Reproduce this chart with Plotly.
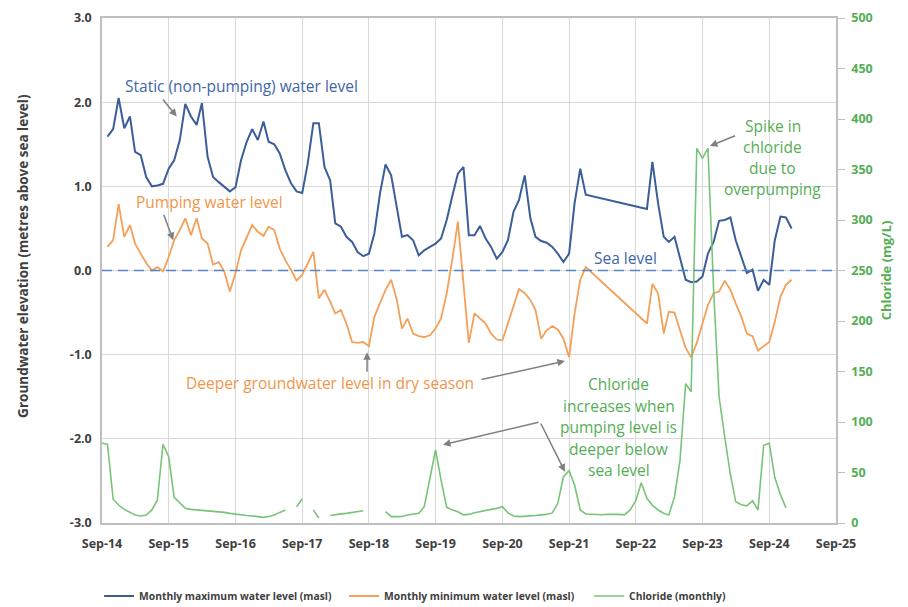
import pandas as pd
import plotly.graph_objects as go

# ---------------- data ----------------
months = pd.date_range("2014-09-01", periods=125, freq="MS")

max_level = [
    None, 1.59, 1.68, 2.05, 1.69, 1.83, 1.41, 1.37, 1.11, 1.00, 1.01, 1.03,
    1.21, 1.31, 1.55, 1.98, 1.83, 1.73, 1.99, 1.35, 1.11, 1.05, 1.00, 0.94,
    0.99, 1.31, 1.53, 1.68, 1.55, 1.77, 1.53, 1.50, 1.39, 1.19, 1.04, 0.94,
    0.92, 1.27, 1.75, 1.75, 1.23, 1.07, 0.56, 0.52, 0.40, 0.34, 0.22, 0.17,
    0.20, 0.44, 0.92, 1.26, 1.13, 0.72, 0.40, 0.42, 0.36, 0.18, 0.24, 0.28,
    0.32, 0.38, 0.60, 0.88, 1.15, 1.23, 0.42, 0.42, 0.53, 0.38, 0.28, 0.14,
    0.22, 0.36, 0.70, 0.84, 1.13, 0.62, 0.40, 0.35, 0.33, 0.28, 0.20, 0.10,
    0.20, 0.80, 1.21, 0.90, None, None, None, None, None, None, None, None,
    None, None, 0.73, 1.29, 0.80, 0.40, 0.34, 0.40, 0.16, -0.11, -0.14, -0.13,
    -0.07, 0.20, 0.34, 0.59, 0.60, 0.63, 0.36, 0.16, -0.03, 0.01, -0.24, -0.11,
    -0.17, 0.36, 0.64, 0.63, 0.50,
]

min_level = [
    None, 0.28, 0.36, 0.79, 0.40, 0.54, 0.32, 0.20, 0.09, 0.00, 0.04, -0.01,
    0.16, 0.36, 0.48, 0.62, 0.42, 0.62, 0.38, 0.32, 0.07, 0.10, -0.01, -0.25,
    -0.03, 0.24, 0.40, 0.54, 0.46, 0.41, 0.52, 0.48, 0.26, 0.12, 0.01, -0.12,
    -0.05, 0.09, 0.22, -0.33, -0.23, -0.37, -0.51, -0.47, -0.63, -0.85, -0.86, -0.85,
    -0.90, -0.55, -0.39, -0.23, -0.11, -0.35, -0.69, -0.57, -0.75, -0.78, -0.79, -0.77,
    -0.69, -0.57, -0.27, 0.12, 0.58, -0.19, -0.86, -0.51, -0.57, -0.63, -0.75, -0.82,
    -0.83, -0.63, -0.43, -0.22, -0.27, -0.35, -0.47, -0.81, -0.71, -0.66, -0.70, -0.81,
    -1.03, -0.51, -0.11, 0.04, None, None, None, None, None, None, None, None,
    None, None, -0.63, -0.16, -0.27, -0.75, -0.49, -0.50, -0.71, -0.92, -1.03, -0.86,
    -0.63, -0.41, -0.27, -0.25, -0.12, -0.23, -0.39, -0.55, -0.75, -0.78, -0.95, -0.90,
    -0.85, -0.61, -0.31, -0.17, -0.11,
]

chloride = [
    78.9, 78.0, 23.5, 17.8, 13.5, 10.5, 8.0, 6.9, 7.9, 12.9, 22.8, 78.0,
    65.7, 25.4, 19.5, 14.5, 13.5, 13.0, 12.5, 12.2, 11.5, 11.0, 10.5, 9.5,
    8.6, 8.0, 7.5, 7.0, 6.2, 5.6, 6.5, 7.9, 10.5, 12.9, None, 16.0,
    24.0, None, 13.0, 5.0, None, 7.5, 8.5, 9.0, 9.5, 10.5, 11.5, 12.2,
    None, None, None, 11.2, 6.3, 6.3, 6.5, 7.9, 8.5, 9.6, 16.1, 45.8,
    72.3, 42.6, 15.5, 13.0, 11.2, 8.0, 8.5, 10.2, 11.5, 12.9, 13.5, 14.5,
    16.1, 10.0, 7.0, 6.3, 6.5, 6.9, 7.5, 8.0, 8.5, 10.0, 19.5, 45.8,
    51.8, 37.6, 12.9, 8.9, 8.5, 8.0, 8.2, 8.6, 8.9, 8.5, 8.0, 12.9,
    22.0, 39.9, 24.4, 17.5, 12.9, 9.6, 7.9, 26.0, 62.0, 138.0, 130.0, 371.0,
    361.0, 371.0, 231.0, 125.0, 85.0, 48.0, 21.0, 18.0, 17.0, 22.0, 13.0, 77.0,
    79.0, 45.0, 28.0, 15.0, None,
]

sea_level = 0.0
x_range = ["2014-09-01", "2025-09-01"]
x_tick0 = "2014-09-01"
y_tick_vals = [-3, -2, -1, 0, 1, 2, 3]
y_tick_text = ["-3.0", "-2.0", "-1.0", "0.0", "1.0", "2.0", "3.0"]
chl_range = [0, 500]

series_names = [
    "Monthly maximum water level (masl)",
    "Monthly minimum water level (masl)",
    "Chloride (monthly)",
]
y_title = "Groundwater elevation (metres above sea level)"
y2_title = "Chloride (mg/L)"

# ---------------- styles ----------------
BLUE = "#3B5E98"
ORANGE = "#F3A05A"
GREEN = "#78C478"
BLUE_TXT = "#4066A8"
ORANGE_TXT = "#F0964A"
GREEN_TXT = "#55AE55"
GREY = "#808080"
AXIS_TXT = "#404040"
GRID = "#D9D9D9"
FONT = "Open Sans"
ANN_SIZE = 15.5

fig = go.Figure()
fig.add_trace(go.Scatter(x=months, y=max_level, mode="lines", name=series_names[0],
                         line=dict(color=BLUE, width=2), connectgaps=True))
fig.add_trace(go.Scatter(x=months, y=min_level, mode="lines", name=series_names[1],
                         line=dict(color=ORANGE, width=1.8), connectgaps=True))
fig.add_trace(go.Scatter(x=months, y=chloride, mode="lines", name=series_names[2],
                         line=dict(color=GREEN, width=1.6), connectgaps=False,
                         yaxis="y2"))

fig.add_hline(y=sea_level, line=dict(color="#5584C4", width=1.5, dash="10px,6px"))

annotations = []


def label(x, y, text, color, size=ANN_SIZE):
    annotations.append(dict(x=x, y=y, xref="x", yref="y", text=text, showarrow=False,
                            font=dict(color=color, size=size, family=FONT),
                            xanchor="center", yanchor="middle"))


def arrow(x, y, ax, ay):
    annotations.append(dict(x=x, y=y, ax=ax, ay=ay, xref="x", yref="y",
                            axref="x", ayref="y", text="", showarrow=True,
                            arrowhead=2, arrowsize=1, arrowwidth=1.5,
                            arrowcolor=GREY, standoff=0, startstandoff=0))


label("2016-10-06", 2.19, "Static (non-pumping) water level", BLUE_TXT)
arrow("2015-10-15", 1.83, "2015-07-25", 2.05)

label("2016-04-14", 0.81, "Pumping water level", ORANGE_TXT)
arrow("2015-09-26", 0.36, "2015-08-02", 0.68)

label("2022-07-09", 0.15, "Sea level", BLUE_TXT)

label("2018-01-31", -1.34, "Deeper groundwater level in dry season", ORANGE_TXT)
arrow("2018-08-22", -0.97, "2018-08-22", -1.22)
arrow("2021-08-09", -1.075, "2020-05-01", -1.30)

for i, line in enumerate(["Chloride", "increases when", "pumping level is",
                          "deeper below", "sea level"]):
    label("2022-06-01", -1.35 - i * 0.255, line, GREEN_TXT)
arrow("2019-10-12", -2.07, "2021-03-26", -1.80)
arrow("2021-08-09", -2.39, "2021-03-26", -1.80)

for i, line in enumerate(["Spike in", "chloride", "due to", "overpumping"]):
    label("2024-09-21", 1.716 - i * 0.25, line, GREEN_TXT)
arrow("2023-10-12", 1.479, "2024-03-06", 1.609)

# left axis title (placed slightly above the axis centre, as in the original)
annotations.append(dict(x=-0.1076, y=0.529, xref="paper", yref="paper",
                        text=y_title, textangle=-90, showarrow=False,
                        xanchor="center", yanchor="middle",
                        font=dict(size=13.5, color=AXIS_TXT, family=FONT,
                                  weight="bold")))

tick_font = dict(size=12.5, color=AXIS_TXT, weight="bold")

fig.update_layout(
    width=908, height=607,
    margin=dict(l=94, r=80, t=10, b=92, autoexpand=False),
    plot_bgcolor="white", paper_bgcolor="white",
    font=dict(family=FONT, color=AXIS_TXT),
    annotations=annotations,
    showlegend=True,
    legend=dict(orientation="h", x=-0.004, xanchor="left",
                y=-0.1446, yanchor="middle",
                entrywidth=200, entrywidthmode="pixels",
                font=dict(size=10.3, color=AXIS_TXT, weight="bold"),
                bgcolor="rgba(0,0,0,0)"),
    xaxis=dict(type="date", range=x_range, tick0=x_tick0, dtick="M12",
               tickformat="%b-%y", showgrid=True, gridcolor=GRID, gridwidth=1,
               showline=True, linecolor="#BFBFBF", linewidth=1.5, mirror=True,
               ticks="", tickfont=tick_font, ticklabelstandoff=8, zeroline=False,
               automargin=False),
    yaxis=dict(range=[-3, 3], tickvals=y_tick_vals, ticktext=y_tick_text,
               showgrid=True, gridcolor=GRID, gridwidth=1, zeroline=False,
               showline=True, linecolor="#BFBFBF", linewidth=1.5, ticks="",
               tickfont=tick_font, ticklabelstandoff=6, automargin=False),
    yaxis2=dict(range=chl_range, dtick=50, tick0=0, overlaying="y", side="right",
                showgrid=False, zeroline=False, showline=True, linecolor="#BFBFBF",
                linewidth=1.5, ticks="outside", ticklen=7, tickcolor="#BFBFBF",
                tickfont=dict(size=12.5, color=GREEN_TXT, weight="bold"),
                ticklabelstandoff=4, automargin=False,
                title=dict(text=y2_title,
                           font=dict(size=13, color=GREEN_TXT, weight="bold"),
                           standoff=10)),
)

fig.write_html("out.html")
